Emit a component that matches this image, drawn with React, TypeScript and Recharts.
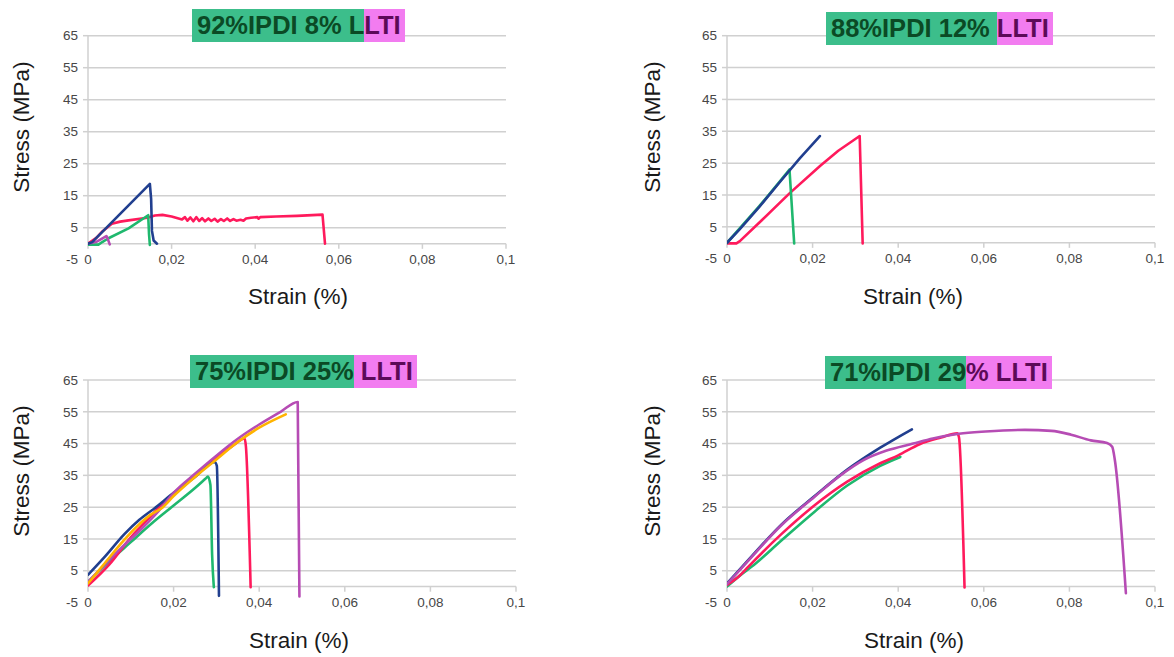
import React from 'react';
import { LineChart, Line, XAxis, YAxis, ReferenceLine } from 'recharts';

const xTicks = [0, 0.02, 0.04, 0.06, 0.08, 0.1];
const xTickLabels = ['0', '0,02', '0,04', '0,06', '0,08', '0,1'];
const yTicks = [-5, 5, 15, 25, 35, 45, 55, 65];
const gridValues = [5, 15, 25, 35, 45, 55, 65];

const BLUE = '#213f8f';
const RED = '#ff1a5c';
const GREEN = '#1fb86e';
const PURPLE = '#b64cb4';
const ORANGE = '#ffb300';

// Panel 1: 92% IPDI 8% LLTI  [strain, stress]
const p1Red = [[0,0],[0.002,1.8],[0.0035,3.9],[0.0057,6.2],[0.0077,6.9],[0.0097,7.3],[0.0142,8.1],[0.016,8.8],[0.0178,9.0],[0.02,8.5],[0.0225,7.6],[0.0232,8.3],[0.0238,7.2],[0.0245,8.2],[0.0252,7.0],[0.0259,8.3],[0.0266,7.1],[0.0273,8.0],[0.028,7.0],[0.0288,7.9],[0.0295,7.1],[0.0303,7.8],[0.031,6.9],[0.0318,7.7],[0.0325,7.1],[0.0333,7.9],[0.034,7.1],[0.0348,7.7],[0.0355,7.2],[0.0365,7.5],[0.0372,7.2],[0.0378,7.9],[0.039,8.1],[0.0405,8.3],[0.0408,7.8],[0.0412,8.3],[0.045,8.5],[0.05,8.7],[0.0561,9.1],[0.0567,0]];
const p1Green = [[0,-0.3],[0.0025,-0.3],[0.0035,0.6],[0.0049,1.7],[0.0097,4.8],[0.0144,8.9],[0.0146,3],[0.0148,-0.4]];
const p1Purple = [[0,0],[0.002,0.6],[0.0044,2.4],[0.0047,1.6],[0.0052,-0.2]];
const p1Blue = [[0,0],[0.001,0.5],[0.0148,18.7],[0.0151,14],[0.0153,4],[0.0157,1],[0.0165,0]];

// Panel 2: 88% IPDI 12% LLTI
const p2Red = [[0,-0.2],[0.0022,-0.2],[0.003,0.5],[0.008,6.9],[0.0146,15.5],[0.0218,24.2],[0.026,28.9],[0.031,33.5],[0.0317,-0.2]];
const p2Green = [[0,0],[0.0075,11.4],[0.0125,19.5],[0.0146,23],[0.0157,-0.2]];
const p2Blue = [[0,0],[0.003,4.3],[0.0075,11.2],[0.0125,19.3],[0.017,26.5],[0.0217,33.5]];

// Panel 3: 75% IPDI 25% LLTI
const p3Green = [[0,1.5],[0.005,8],[0.01,14],[0.015,20],[0.02,25.5],[0.025,31],[0.0275,34],[0.028,34.6],[0.0286,32],[0.029,10],[0.0294,-0.2]];
const p3Red = [[0,0.3],[0.005,7],[0.01,15.5],[0.0135,20.5],[0.017,25.5],[0.02,29],[0.025,35],[0.03,40.5],[0.034,44.5],[0.0366,46.6],[0.0369,44],[0.038,-0.2]];
const p3Blue = [[0,3.7],[0.004,9.5],[0.0085,16.5],[0.012,21],[0.0155,24.6],[0.02,29.5],[0.025,34.5],[0.0296,39.2],[0.0301,38],[0.0306,-2.9]];
const p3Purple = [[0,1.5],[0.004,7],[0.008,12.5],[0.012,17.5],[0.016,23],[0.02,29.5],[0.025,35.5],[0.03,41.2],[0.035,46.5],[0.04,51],[0.045,55],[0.049,58.1],[0.0494,-3.1]];
const p3Orange = [[0,1],[0.004,7.5],[0.008,14],[0.0115,19],[0.0145,22.5],[0.0175,25],[0.02,28.5],[0.025,34.5],[0.03,40],[0.035,45.5],[0.04,50],[0.0462,54.2]];

// Panel 4: 71% IPDI 29% LLTI
const p4Green = [[0,0],[0.0035,4],[0.0058,6.3],[0.0127,14.5],[0.0204,23.5],[0.0281,31.8],[0.0358,38],[0.0405,40.8]];
const p4Red = [[0,0.5],[0.003,3.5],[0.005,6.3],[0.0127,16.5],[0.0204,25.5],[0.0281,33],[0.0358,38.8],[0.04,41.3],[0.045,44.8],[0.05,46.9],[0.0538,48.2],[0.0542,47],[0.0555,-0.3]];
const p4Blue = [[0,1],[0.005,8.4],[0.0127,19.5],[0.0204,28.4],[0.0281,36.8],[0.0358,43.7],[0.0432,49.5]];
const p4Purple = [[0,0.8],[0.005,8.2],[0.0127,19.3],[0.0204,28.2],[0.0265,35],[0.0319,39.8],[0.0373,42.8],[0.0435,45],[0.0481,46.6],[0.0542,48.1],[0.0604,48.8],[0.0696,49.3],[0.0758,49],[0.0804,47.8],[0.085,46],[0.0888,45.2],[0.09,44],[0.0906,40],[0.0932,-2.1]];

const FONT = '"Liberation Sans", Arial, sans-serif';
const TICK_COLOR = '#474747';
const GRID_COLOR = '#d0d0d0';

const toPts = (arr: number[][]) => arr.map(([x, y]) => ({ x, y }));

const XTick = (props: any) => {
  const { x, y, payload } = props;
  const i = xTicks.indexOf(payload.value);
  return (
    <text x={x} y={y} dy="0.35em" textAnchor="middle" fontSize={13.5} fill={TICK_COLOR} fontFamily={FONT}>
      {i >= 0 ? xTickLabels[i] : payload.value}
    </text>
  );
};

const YTick = (props: any) => {
  const { x, y, payload } = props;
  return (
    <g>
      {payload.value !== -5 && <line x1={x - 5} x2={x} y1={y} y2={y} stroke={GRID_COLOR} strokeWidth={1.5} />}
      <text x={x - 10} y={y} dy="0.35em" textAnchor="end" fontSize={13.5} fill={TICK_COLOR} fontFamily={FONT}>
        {payload.value}
      </text>
    </g>
  );
};

type Series = { data: number[][]; color: string };
type PanelProps = {
  box: { x: number; y: number; w: number; h: number };
  plot: { l: number; r: number; t: number; b: number };
  series: Series[];
  curve: 'linear' | 'monotone';
  title: [string, string];
  titlePos: { x: number; y: number };
  stressPos: { x: number; y: number };
  strainPos: { x: number; y: number };
};

const YW = 50;
const XH = 20;

const Panel = ({ box, plot, series, curve, title, titlePos, stressPos, strainPos }: PanelProps) => {
  const margin = {
    top: plot.t - box.y,
    left: plot.l - box.x - YW,
    right: box.x + box.w - plot.r,
    bottom: box.y + box.h - plot.b - XH,
  };
  return (
    <>
      <div style={{ position: 'absolute', left: box.x, top: box.y }}>
        <LineChart width={box.w} height={box.h} margin={margin}>
          <XAxis
            type="number"
            dataKey="x"
            domain={[0, 0.1]}
            ticks={xTicks}
            interval={0}
            allowDataOverflow
            axisLine={false}
            tickLine={false}
            tickSize={0}
            tickMargin={0}
            height={XH}
            tick={<XTick />}
          />
          <YAxis
            type="number"
            domain={[-5, 65]}
            ticks={yTicks}
            interval={0}
            allowDataOverflow
            axisLine={false}
            tickLine={false}
            tickSize={0}
            tickMargin={0}
            width={YW}
            tick={<YTick />}
          />
          {gridValues.map((v) => (
            <ReferenceLine key={'g' + v} y={v} stroke={GRID_COLOR} strokeWidth={1.5} />
          ))}
          <ReferenceLine y={0} stroke={GRID_COLOR} strokeWidth={1.5} />
          <ReferenceLine segment={[{ x: 0, y: 0 }, { x: 0, y: 65 }]} stroke={GRID_COLOR} strokeWidth={1.5} />
          {xTicks.map((v) => (
            <ReferenceLine key={'t' + v} segment={[{ x: v, y: 0 }, { x: v, y: -1.6 }]} stroke={GRID_COLOR} strokeWidth={1.5} />
          ))}
          {series.map((s, i) => (
            <Line
              key={i}
              data={toPts(s.data)}
              dataKey="y"
              type={curve}
              stroke={s.color}
              strokeWidth={2.6}
              dot={false}
              activeDot={false}
              isAnimationActive={false}
              strokeLinejoin="round"
              strokeLinecap="round"
            />
          ))}
        </LineChart>
      </div>
      <div
        style={{
          position: 'absolute',
          left: titlePos.x,
          top: titlePos.y,
          display: 'flex',
          fontFamily: FONT,
          fontWeight: 'bold',
          fontSize: 25.5,
          lineHeight: '33px',
          whiteSpace: 'pre',
        }}
      >
        <span style={{ background: '#3cbe8b', color: '#0b4a25', paddingLeft: 5 }}>{title[0]}</span>
        <span style={{ background: '#f27cf0', color: '#5c0a58', paddingRight: 4 }}>{title[1]}</span>
      </div>
      <div
        style={{
          position: 'absolute',
          left: stressPos.x - 100,
          top: stressPos.y - 15,
          width: 200,
          height: 30,
          lineHeight: '30px',
          textAlign: 'center',
          transform: 'rotate(-90deg)',
          fontFamily: FONT,
          fontSize: 22.5,
          color: '#1a1a1a',
          whiteSpace: 'nowrap',
        }}
      >
        Stress (MPa)
      </div>
      <div
        style={{
          position: 'absolute',
          left: strainPos.x - 100,
          top: strainPos.y - 15,
          width: 200,
          height: 30,
          lineHeight: '30px',
          textAlign: 'center',
          fontFamily: FONT,
          fontSize: 22.5,
          color: '#1a1a1a',
          whiteSpace: 'nowrap',
        }}
      >
        Strain (%)
      </div>
    </>
  );
};

export default function App() {
  return (
    <div
      style={{
        position: 'absolute',
        left: 0,
        top: 0,
        width: 1174,
        height: 657,
        background: '#ffffff',
        overflow: 'hidden',
      }}
    >
      <Panel
        box={{ x: 0, y: 0, w: 587, h: 328 }}
        plot={{ l: 88, r: 506, t: 35.7, b: 259.7 }}
        curve="linear"
        series={[
          { data: p1Red, color: RED },
          { data: p1Green, color: GREEN },
          { data: p1Purple, color: PURPLE },
          { data: p1Blue, color: BLUE },
        ]}
        title={['92%IPDI 8% L', 'LTI']}
        titlePos={{ x: 192, y: 9 }}
        stressPos={{ x: 22, y: 127 }}
        strainPos={{ x: 298, y: 297 }}
      />
      <Panel
        box={{ x: 587, y: 0, w: 587, h: 328 }}
        plot={{ l: 727, r: 1155, t: 35.7, b: 258.7 }}
        curve="linear"
        series={[
          { data: p2Red, color: RED },
          { data: p2Green, color: GREEN },
          { data: p2Blue, color: BLUE },
        ]}
        title={['88%IPDI 12% ', 'LLTI']}
        titlePos={{ x: 826, y: 12 }}
        stressPos={{ x: 653, y: 127 }}
        strainPos={{ x: 913, y: 297 }}
      />
      <Panel
        box={{ x: 0, y: 328, w: 587, h: 329 }}
        plot={{ l: 88, r: 516, t: 380, b: 602.5 }}
        curve="monotone"
        series={[
          { data: p3Green, color: GREEN },
          { data: p3Red, color: RED },
          { data: p3Blue, color: BLUE },
          { data: p3Purple, color: PURPLE },
          { data: p3Orange, color: ORANGE },
        ]}
        title={['75%IPDI 25%', ' LLTI']}
        titlePos={{ x: 190, y: 355 }}
        stressPos={{ x: 22, y: 471 }}
        strainPos={{ x: 299, y: 641 }}
      />
      <Panel
        box={{ x: 587, y: 328, w: 587, h: 329 }}
        plot={{ l: 727, r: 1155, t: 380, b: 602.5 }}
        curve="monotone"
        series={[
          { data: p4Green, color: GREEN },
          { data: p4Red, color: RED },
          { data: p4Blue, color: BLUE },
          { data: p4Purple, color: PURPLE },
        ]}
        title={['71%IPDI 29', '% LLTI']}
        titlePos={{ x: 825, y: 356 }}
        stressPos={{ x: 653, y: 471 }}
        strainPos={{ x: 914, y: 641 }}
      />
    </div>
  );
}
